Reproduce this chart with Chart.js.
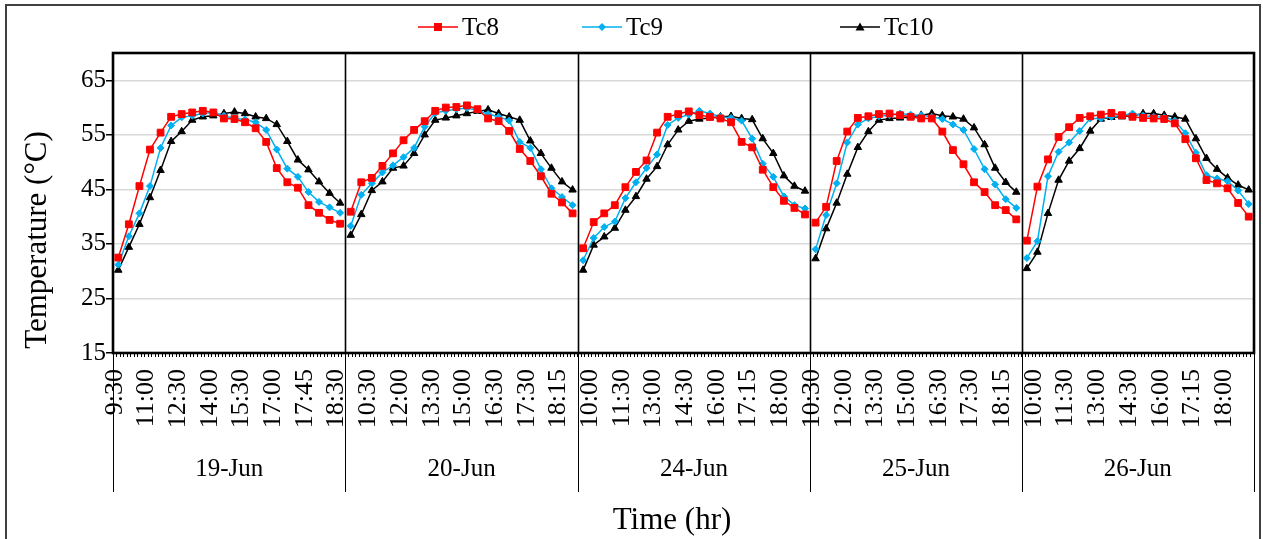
<!DOCTYPE html>
<html>
<head>
<meta charset="utf-8">
<script src="https://cdn.jsdelivr.net/npm/chart.js@4"></script>
<style>
  body { margin: 0; background: #fff; }
  #wrap { position: relative; width: 1263px; height: 539px; overflow: hidden; }
  #border { position: absolute; left: 5px; top: 4px; width: 1256px; height: 545px; border: 2px solid #404040; box-sizing: border-box; }
  .leg { position: absolute; top: 13px; display: flex; align-items: center; font: 25px "Liberation Serif", "Times New Roman", serif; color: #000; }
  .leg svg { margin-right: 4px; }
</style>
</head>
<body>
<div id="wrap">
  <div id="border"></div>
  <canvas id="MyChart" width="1263" height="539"></canvas>
  <div id="legend"></div>
</div>
<script>
// jours et nombre de mesures par jour
const days = ['19-Jun', '20-Jun', '24-Jun', '25-Jun', '26-Jun'];
const pointsPerDay = [22, 22, 22, 20, 22];
// étiquettes horaires (une toutes les 3 mesures)
const labelEvery = 3;
const timeLabels = [
    ['9:30', '11:00', '12:30', '14:00', '15:30', '17:00', '17:45', '18:30'],
    ['10:30', '12:00', '13:30', '15:00', '16:30', '17:30', '18:15'],
    ['10:00', '11:30', '13:00', '14:30', '16:00', '17:15', '18:00'],
    ['10:30', '12:00', '13:30', '15:00', '16:30', '17:30', '18:15'],
    ['10:00', '11:30', '13:00', '14:30', '16:00', '17:15', '18:00']
];
const yTicks = [15, 25, 35, 45, 55, 65];

const tc8 = [
    32.5, 38.6, 45.6, 52.3, 55.4, 58.3, 58.8, 59.1, 59.4, 59.1, 58.0, 57.9, 57.3, 56.2, 53.7, 48.9, 46.3, 45.3, 42.1, 40.7, 39.4, 38.7,
    40.9, 46.3, 47.1, 49.3, 51.6, 54.0, 55.9, 57.5, 59.4, 60.0, 60.1, 60.4, 59.7, 58.0, 57.5, 55.7, 52.4, 50.2, 47.4, 44.2, 42.6, 40.6,
    34.2, 39.0, 40.6, 42.1, 45.4, 48.2, 50.3, 55.4, 58.3, 58.8, 59.3, 58.6, 58.3, 58.0, 57.3, 53.7, 52.7, 48.6, 45.4, 42.9, 41.6, 40.4,
    38.9, 41.8, 50.2, 55.6, 58.1, 58.4, 58.8, 58.9, 58.6, 58.3, 58.0, 58.0, 55.6, 52.2, 49.6, 46.3, 44.5, 42.1, 41.2, 39.5,
    35.6, 45.5, 50.5, 54.6, 56.4, 58.1, 58.4, 58.7, 59.0, 58.6, 58.3, 58.1, 58.0, 57.9, 57.1, 54.2, 50.7, 46.7, 46.1, 45.2, 42.5, 40.0
];
const tc9 = [
    31.2, 36.4, 40.6, 45.6, 52.6, 56.7, 58.2, 58.5, 58.9, 59.1, 58.5, 58.0, 57.8, 57.3, 55.9, 52.3, 48.8, 47.3, 44.5, 42.7, 41.7, 40.7,
    38.3, 44.0, 46.1, 48.1, 49.4, 50.9, 52.6, 56.5, 59.0, 59.4, 59.7, 59.9, 59.5, 58.8, 58.3, 57.6, 53.7, 52.6, 48.7, 45.2, 43.6, 42.1,
    32.0, 36.1, 38.1, 39.1, 43.4, 46.3, 48.9, 51.4, 56.8, 58.1, 58.7, 59.4, 58.9, 58.3, 58.1, 57.6, 54.3, 49.7, 47.3, 43.7, 42.1, 41.5,
    34.0, 40.3, 46.1, 53.6, 56.9, 58.0, 58.4, 58.6, 58.9, 58.7, 58.6, 58.3, 57.9, 56.9, 55.9, 52.4, 48.7, 45.9, 43.2, 41.6,
    32.4, 35.5, 47.4, 51.9, 53.6, 55.7, 58.0, 58.0, 58.3, 58.6, 58.9, 58.5, 58.3, 58.2, 57.6, 55.3, 51.7, 47.6, 47.0, 46.5, 44.8, 42.3
];
const tc10 = [
    30.2, 34.4, 38.6, 43.5, 48.5, 53.8, 55.6, 57.7, 58.3, 58.5, 58.9, 59.2, 58.9, 58.3, 58.0, 56.9, 53.8, 50.4, 48.6, 46.4, 44.3, 42.5,
    36.6, 40.4, 44.8, 46.4, 48.9, 49.3, 51.6, 55.0, 57.7, 58.1, 58.5, 58.9, 59.3, 59.6, 58.9, 58.3, 57.7, 53.9, 51.6, 48.9, 46.4, 44.9,
    30.2, 34.8, 36.3, 37.9, 41.2, 43.7, 46.9, 49.2, 53.2, 55.9, 57.5, 57.9, 58.1, 58.3, 58.4, 58.0, 57.8, 54.3, 51.6, 47.5, 45.6, 44.7,
    32.3, 37.8, 42.5, 47.8, 52.7, 55.6, 57.7, 58.0, 58.1, 58.3, 58.6, 58.9, 58.5, 58.3, 57.9, 56.3, 53.2, 48.9, 46.3, 44.5,
    30.5, 33.5, 40.6, 46.7, 50.2, 52.5, 55.7, 57.9, 58.2, 58.3, 58.5, 58.9, 58.9, 58.6, 58.3, 57.9, 54.3, 50.7, 48.7, 47.1, 45.8, 44.9
];

const series = [
    { label: 'Tc8', data: tc8, color: '#ff0000', style: 'rect', radius: 4.8 },
    { label: 'Tc9', data: tc9, color: '#00b0f0', style: 'rectRot', radius: 3.5 },
    { label: 'Tc10', data: tc10, color: '#000000', style: 'triangle', radius: 4.3 }
];

// limites des jours (indices)
const dayEnds = [];
let total = 0;
pointsPerDay.forEach(n => { total += n; dayEnds.push(total - 1); });
const dayStarts = dayEnds.map((e, i) => e - pointsPerDay[i] + 1);
const nPts = total;
const flatLabels = timeLabels.flat();
const xMin = -0.5, xMax = nPts - 0.5;
const fontFam = '"Liberation Serif", "Times New Roman", serif';

// pas de marge ajoutée par les étiquettes débordantes
function noSidePad(s) { s.paddingLeft = 0; s.paddingRight = 0; }

const framePlugin = {
    id: 'frame',
    beforeDatasetsDraw(chart) {
        const ctx = chart.ctx;
        const a = chart.chartArea;
        const x = chart.scales.x;
        const bottomLine = 492;
        ctx.save();
        ctx.strokeStyle = '#000';
        dayEnds.slice(0, -1).forEach(e => {
            const px = Math.round(x.getPixelForValue(e + 0.5)) + 0.5;
            ctx.lineWidth = 1.6;
            ctx.beginPath(); ctx.moveTo(px, a.top); ctx.lineTo(px, a.bottom); ctx.stroke();
            ctx.lineWidth = 1;
            ctx.beginPath(); ctx.moveTo(px, a.bottom); ctx.lineTo(px, bottomLine); ctx.stroke();
        });
        [xMin, xMax].forEach(v => {
            const px = Math.round(x.getPixelForValue(v)) + 0.5;
            ctx.lineWidth = 1;
            ctx.beginPath(); ctx.moveTo(px, a.bottom); ctx.lineTo(px, bottomLine); ctx.stroke();
        });
        ctx.lineWidth = 2.6;
        ctx.strokeRect(a.left, a.top, a.right - a.left, a.bottom - a.top);
        ctx.restore();
    },
    afterDraw(chart) {
        // titres des axes
        const ctx = chart.ctx;
        ctx.save();
        ctx.fillStyle = '#000';
        ctx.font = '31px ' + fontFam;
        ctx.textAlign = 'center';
        ctx.textBaseline = 'middle';
        ctx.fillText('Time (hr)', 672, 521);
        ctx.translate(38, 240);
        ctx.rotate(-Math.PI / 2);
        ctx.fillText('Temperature (°C)', 0, 0);
        ctx.restore();
    }
};

// légende HTML (ligne + marqueur)
function markerSvg(s) {
    let m = '';
    if (s.style === 'rect') m = `<rect x="16" y="4" width="8" height="8" fill="${s.color}"/>`;
    if (s.style === 'rectRot') m = `<polygon points="20,4 24,8 20,12 16,8" fill="${s.color}"/>`;
    if (s.style === 'triangle') m = `<polygon points="20,3.5 24.5,11.5 15.5,11.5" fill="${s.color}"/>`;
    return `<svg width="40" height="16"><line x1="0" y1="8" x2="40" y2="8" stroke="${s.color}" stroke-width="1.5"/>${m}</svg>`;
}
const legendLeft = [418, 582, 840];
document.getElementById('legend').innerHTML = series.map((s, i) =>
    `<div class="leg" style="left:${legendLeft[i]}px">${markerSvg(s)}<span>${s.label}</span></div>`).join('');

Chart.defaults.font.family = fontFam;
Chart.defaults.color = '#000';

const ctx = document.getElementById('MyChart').getContext('2d');
const tempChart = new Chart(ctx, {
    type: 'line',
    data: {
        datasets: series.map(s => ({
            label: s.label,
            data: s.data.map((v, i) => ({ x: i, y: v })),
            borderColor: s.color,
            backgroundColor: s.color,
            pointBackgroundColor: s.color,
            pointBorderColor: s.color,
            pointBorderWidth: 1,
            pointStyle: s.style,
            pointRadius: s.radius,
            borderWidth: 1.5,
            tension: 0,
            segment: {
                borderColor: c => dayEnds.includes(c.p0DataIndex) ? 'rgba(0,0,0,0)' : undefined
            }
        }))
    },
    options: {
        responsive: false,
        animation: false,
        devicePixelRatio: 1,
        layout: { padding: { top: 53, right: 9, left: 0, bottom: 0 } },
        plugins: { legend: { display: false }, tooltip: { enabled: false } },
        scales: {
            y: {
                min: 15,
                max: 70,
                ticks: { stepSize: 10, font: { size: 25 }, padding: 0, color: '#000' },
                afterBuildTicks: s => { s.ticks = yTicks.map(v => ({ value: v })); },
                afterFit: s => { s.width = 113; s.paddingTop = 0; s.paddingBottom = 0; },
                grid: { color: '#d9d9d9', lineWidth: 1.5, tickColor: '#000', tickLength: 7 },
                border: { display: false }
            },
            x: {
                type: 'linear',
                position: 'bottom',
                weight: 0,
                min: xMin,
                max: xMax,
                afterBuildTicks: s => {
                    const t = [];
                    for (let k = 0; k <= nPts * 3; k++) t.push({ value: xMin + k / 3 });
                    s.ticks = t;
                },
                ticks: { display: false, autoSkip: false },
                grid: { drawOnChartArea: false, drawTicks: true, tickLength: 4, color: '#000', lineWidth: 1 },
                border: { display: false },
                afterFit: s => { s.height = 5; noSidePad(s); }
            },
            xt: {
                type: 'linear',
                position: 'bottom',
                weight: 1,
                min: xMin,
                max: xMax,
                afterBuildTicks: s => {
                    const t = [];
                    for (let i = 0; i < nPts; i += labelEvery) t.push({ value: i - 1 / 3 });
                    s.ticks = t;
                },
                ticks: {
                    autoSkip: false, minRotation: 90, maxRotation: 90, padding: 11,
                    font: { size: 26 }, color: '#000',
                    callback: (v, i) => flatLabels[i]
                },
                grid: { display: false, drawTicks: false },
                border: { display: false },
                afterFit: s => { s.height = 72; noSidePad(s); }
            },
            xd: {
                type: 'linear',
                position: 'bottom',
                weight: 2,
                min: xMin,
                max: xMax,
                afterBuildTicks: s => {
                    s.ticks = dayStarts.map((st, i) => ({ value: (st + dayEnds[i]) / 2 }));
                },
                ticks: {
                    autoSkip: false, maxRotation: 0, minRotation: 0, padding: 24,
                    font: { size: 25 }, color: '#000',
                    callback: (v, i) => days[i]
                },
                grid: { display: false, drawTicks: false },
                border: { display: false },
                afterFit: s => { s.height = 109; noSidePad(s); }
            }
        }
    },
    plugins: [framePlugin]
});
</script>
</body>
</html>
